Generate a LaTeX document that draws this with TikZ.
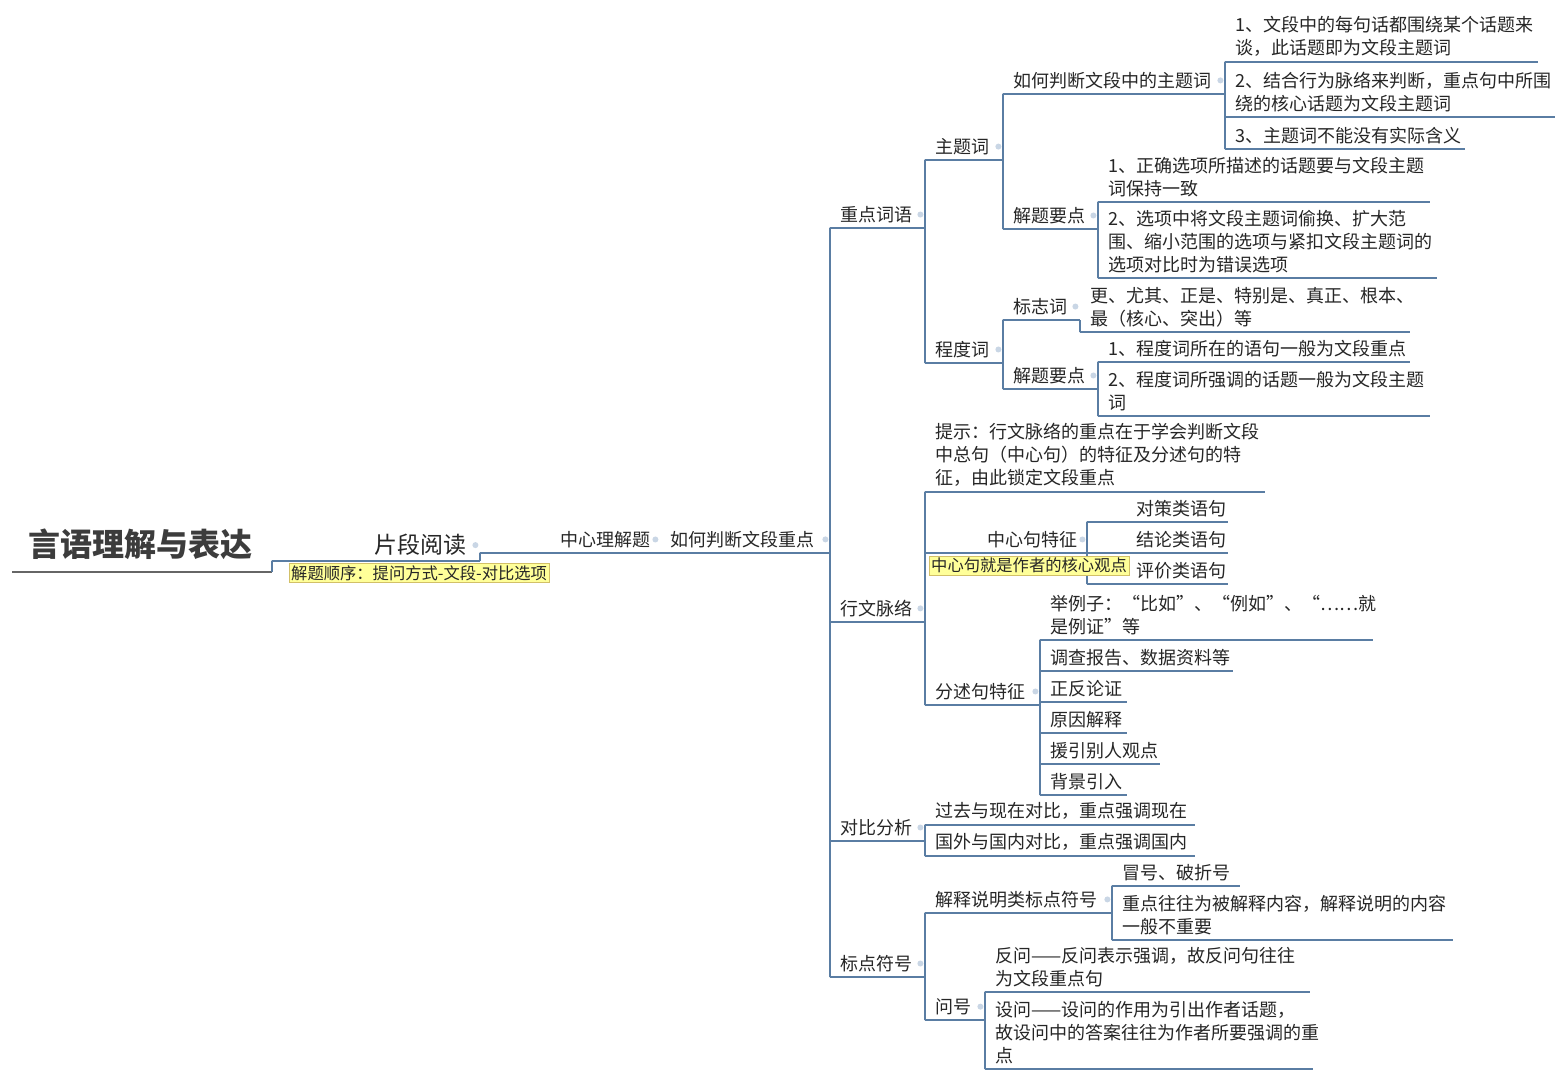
\documentclass[tikz,border=0pt]{standalone}
\usepackage{fontspec}
\setmainfont{Noto Sans CJK SC}
\usepackage{tikz}
\usetikzlibrary{positioning}
\definecolor{mmline}{HTML}{5A7DA3}
\definecolor{mmtext}{HTML}{262626}
\definecolor{mmroot}{HTML}{3C3C3C}
\definecolor{mmfold}{HTML}{C9D6E5}
\definecolor{mmnote}{HTML}{FFFF99}
\definecolor{mmnoteedge}{HTML}{D2C068}
\tikzset{
  topic/.style={
    anchor=south west,
    inner xsep=10pt,
    inner ysep=5pt,
    align=left,
    text=mmtext,
    font=\fontsize{18}{23}\selectfont
  },
  ulen/.style={text width=#1pt-20pt},
  toright/.style={align=right},
  folded/.style={label={[foldmark]east:{}}},
  foldmark/.style={circle, fill=mmfold, inner sep=0pt, minimum size=6pt, anchor=center, xshift=-5pt},
  rootnode/.style={topic, inner xsep=16pt, inner ysep=12pt, text=mmroot,
    font=\fontsize{32}{36}\selectfont\bfseries},
  notebox/.style={draw=mmnoteedge, fill=mmnote, anchor=north west, inner xsep=2pt,
    inner ysep=2pt, text=mmtext, font=\fontsize{16.3}{19}\selectfont},
  branch/.style={draw=mmline, line width=2pt},
  rootline/.style={draw=black!60, line width=2.5pt}
}
\begin{document}
\begin{tikzpicture}[x=1pt, y=-1pt]
\useasboundingbox[fill=white] (0,0) rectangle (1567,1080);
% left part
\node[rootnode, text width=228pt] (root) at (12,572) {言语理解与表达};
\node[topic, toright, folded, inner xsep=14pt, text width=180pt, font=\fontsize{23}{27}\selectfont] (reading) at (272,561) {片段阅读};
\node[topic, ulen=180, toright, folded] (central) at (480,553) {中心理解题};
\node[topic, ulen=170, folded] (judge) at (660,553) {如何判断文段重点};
% first level
\node[topic, ulen=95, folded] (keyword) at (830,228) {重点词语};
\node[topic, ulen=95, folded] (context) at (830,622) {行文脉络};
\node[topic, ulen=95, folded] (contrast) at (830,841) {对比分析};
\node[topic, ulen=95, folded] (punct) at (830,977) {标点符号};
% key words
\node[topic, ulen=78, folded] (topicword) at (925,160) {主题词};
\node[topic, ulen=78, folded] (degree) at (925,363) {程度词};
\node[topic, ulen=222, folded] (howtopic) at (1003,94) {如何判断文段中的主题词};
\node[topic, ulen=95, folded] (topictips) at (1003,229) {解题要点};
\node[topic, ulen=313] (topicA) at (1225,62) {1、文段中的每句话都围绕某个话题来\\谈，此话题即为文段主题词};
\node[topic, ulen=330] (topicB) at (1225,117) {2、结合行为脉络来判断，重点句中所围\\绕的核心话题为文段主题词};
\node[topic, ulen=240] (topicC) at (1225,149) {3、主题词不能没有实际含义};
\node[topic, ulen=332] (tipA) at (1098,202) {1、正确选项所描述的话题要与文段主题\\词保持一致};
\node[topic, ulen=339] (tipB) at (1098,278) {2、选项中将文段主题词偷换、扩大范\\围、缩小范围的选项与紧扣文段主题词的\\选项对比时为错误选项};
\node[topic, ulen=77, folded] (marker) at (1003,320) {标志词};
\node[topic, ulen=330] (markerlist) at (1080,332) {更、尤其、正是、特别是、真正、根本、\\最（核心、突出）等};
\node[topic, ulen=95, folded] (degreetips) at (1003,389) {解题要点};
\node[topic, ulen=312] (degA) at (1098,362) {1、程度词所在的语句一般为文段重点};
\node[topic, ulen=332] (degB) at (1098,416) {2、程度词所强调的话题一般为文段主题\\词};
% context
\node[topic, ulen=340] (hint) at (925,492) {提示：行文脉络的重点在于学会判断文段\\中总句（中心句）的特征及分述句的特\\征，由此锁定文段重点};
\node[topic, ulen=162, toright, folded] (centralfeat) at (925,553) {中心句特征};
\node[topic, toright, inner xsep=2pt, text width=137pt] (plan) at (1087,522) {对策类语句};
\node[topic, toright, inner xsep=2pt, text width=137pt] (conclude) at (1087,553) {结论类语句};
\node[topic, toright, inner xsep=2pt, text width=137pt] (assess) at (1087,584) {评价类语句};
\node[topic, ulen=115, folded] (subfeat) at (925,705) {分述句特征};
\node[topic, ulen=333] (example) at (1040,640) {举例子：“比如”、“例如”、“……就\\是例证”等};
\node[topic, ulen=193] (survey) at (1040,671) {调查报告、数据资料等};
\node[topic, ulen=87] (prosandcons) at (1040,702) {正反论证};
\node[topic, ulen=87] (cause) at (1040,733) {原因解释};
\node[topic, ulen=120] (quote) at (1040,764) {援引别人观点};
\node[topic, ulen=87] (background) at (1040,795) {背景引入};
% contrast
\node[topic, ulen=270] (pastnow) at (925,825) {过去与现在对比，重点强调现在};
\node[topic, ulen=270] (abroad) at (925,856) {国外与国内对比，重点强调国内};
% punctuation
\node[topic, ulen=187, folded] (explain) at (925,913) {解释说明类标点符号};
\node[topic, ulen=128] (colon) at (1112,886) {冒号、破折号};
\node[topic, ulen=341] (explnote) at (1112,940) {重点往往为被解释内容，解释说明的内容\\一般不重要};
\node[topic, ulen=60, folded] (question) at (925,1020) {问号};
\node[topic, ulen=325] (rhet) at (985,992) {反问——反问表示强调，故反问句往往\\为文段重点句};
\node[topic, ulen=328] (setq) at (985,1069) {设问——设问的作用为引出作者话题，\\故设问中的答案往往为作者所要强调的重\\点};
% lines
\draw[rootline] (root.south west) -- (root.south east);
\foreach \a/\b in {root/reading, reading/central, central/judge,
  judge/keyword, judge/context, judge/contrast, judge/punct,
  keyword/topicword, keyword/degree,
  topicword/howtopic, topicword/topictips,
  howtopic/topicA, howtopic/topicB, howtopic/topicC,
  topictips/tipA, topictips/tipB,
  degree/marker, degree/degreetips, marker/markerlist,
  degreetips/degA, degreetips/degB,
  context/hint, context/centralfeat, context/subfeat,
  centralfeat/plan, centralfeat/conclude, centralfeat/assess,
  subfeat/example, subfeat/survey, subfeat/prosandcons, subfeat/cause,
  subfeat/quote, subfeat/background,
  contrast/pastnow, contrast/abroad,
  punct/explain, punct/question,
  explain/colon, explain/explnote,
  question/rhet, question/setq}
  \draw[branch] (\a.south east) |- (\b.south west) -- (\b.south east);
% notes on top of the lines
\node[notebox] (readingnote) at (289,563) {解题顺序：提问方式-文段-对比选项};
\node[notebox] (centralnote) at (929,556) {中心句就是作者的核心观点};
\end{tikzpicture}
\end{document}
